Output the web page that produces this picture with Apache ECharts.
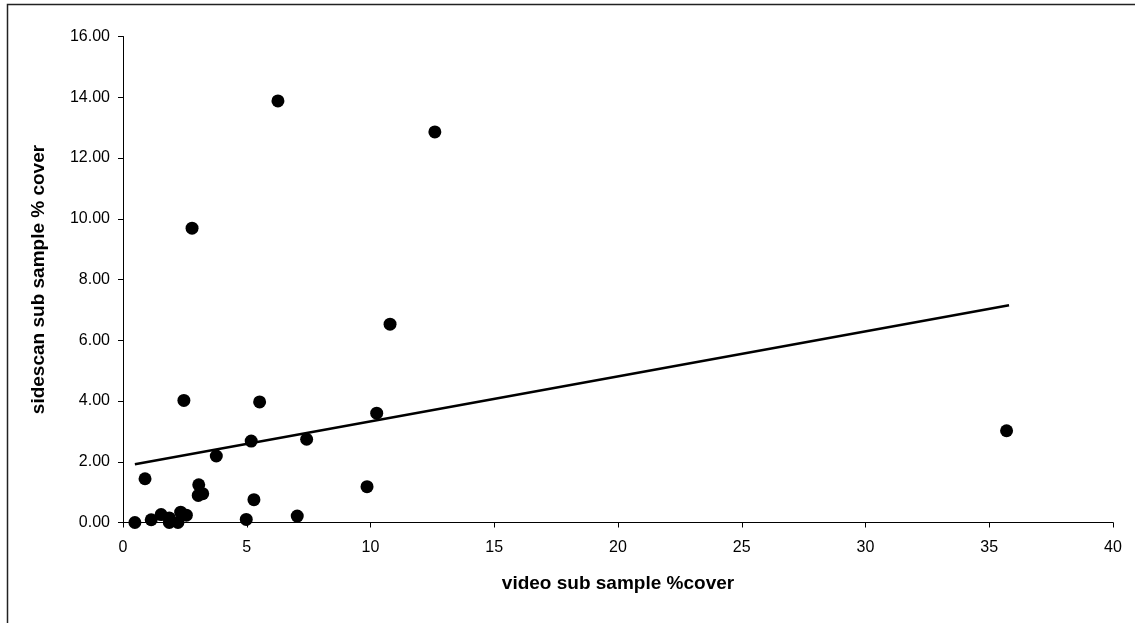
<!DOCTYPE html>
<html>
<head>
<meta charset="utf-8">
<script src="https://cdn.jsdelivr.net/npm/echarts@6/dist/echarts.min.js"></script>
<style>
  html, body { margin: 0; padding: 0; background: #fff; }
  #chart { width: 1135px; height: 623px; }
</style>
</head>
<body>
<div id="chart"></div>
<script>
// video sub sample %cover (x) vs sidescan sub sample % cover (y)
const videoCover = [6.26, 12.6, 2.79, 10.79, 35.7, 2.46, 5.52, 10.25, 3.77, 5.18, 7.42, 0.89,
  0.48, 1.14, 1.54, 1.87, 1.87, 2.22, 2.33, 2.56, 3.06, 3.04, 3.22, 4.98, 5.29, 7.04, 9.86];
const sidescanCover = [13.88, 12.86, 9.69, 6.53, 3.02, 4.02, 3.97, 3.60, 2.19, 2.68, 2.74, 1.44,
  0.0, 0.09, 0.26, 0.15, 0.0, 0.0, 0.34, 0.24, 1.24, 0.89, 0.95, 0.10, 0.75, 0.21, 1.18];
// linear trendline end points
const trendX = [0.48, 35.8];
const trendY = [1.92, 7.15];

const points = videoCover.map((x, i) => [x, sidescanCover[i]]);
const trend = trendX.map((x, i) => [x, trendY[i]]);

const chart = echarts.init(document.getElementById("chart"));
const font = "'Liberation Sans', Arial, sans-serif";
chart.setOption({
  animation: false,
  backgroundColor: "#fff",
  textStyle: { fontFamily: font },
  graphic: [
    {
      type: "rect",
      shape: { x: 7.5, y: 4.5, width: 1140, height: 640 },
      style: { fill: "none", stroke: "#222", lineWidth: 1.5 },
      silent: true,
    },
  ],
  grid: { left: 123, right: 22, top: 36.5, bottom: 100.5 },
  xAxis: {
    type: "value",
    min: 0,
    max: 40,
    interval: 5,
    name: "video sub sample %cover",
    nameLocation: "middle",
    nameGap: 52,
    nameTextStyle: { fontSize: 19, fontWeight: "bold", color: "#000", fontFamily: font },
    axisLine: { lineStyle: { color: "#000", width: 1 } },
    axisTick: { show: true, length: 5, lineStyle: { color: "#000" } },
    axisLabel: { color: "#000", fontSize: 16, margin: 17, fontFamily: font },
    splitLine: { show: false },
  },
  yAxis: {
    type: "value",
    min: 0,
    max: 16,
    interval: 2,
    name: "sidescan sub sample % cover",
    nameLocation: "middle",
    nameGap: 75,
    nameTextStyle: { fontSize: 19, fontWeight: "bold", color: "#000", fontFamily: font },
    axisLine: { show: true, lineStyle: { color: "#000", width: 1 } },
    axisTick: { show: true, length: 5, lineStyle: { color: "#000" } },
    axisLabel: {
      color: "#000",
      fontSize: 16,
      margin: 13,
      fontFamily: font,
      formatter: (v) => v.toFixed(2),
    },
    splitLine: { show: false },
  },
  series: [
    {
      type: "line",
      data: trend,
      symbol: "none",
      lineStyle: { color: "#000", width: 2.5 },
      z: 1,
    },
    {
      type: "scatter",
      data: points,
      symbol: "circle",
      symbolSize: 13,
      itemStyle: { color: "#000", opacity: 1 },
      z: 2,
    },
  ],
});
</script>
</body>
</html>
